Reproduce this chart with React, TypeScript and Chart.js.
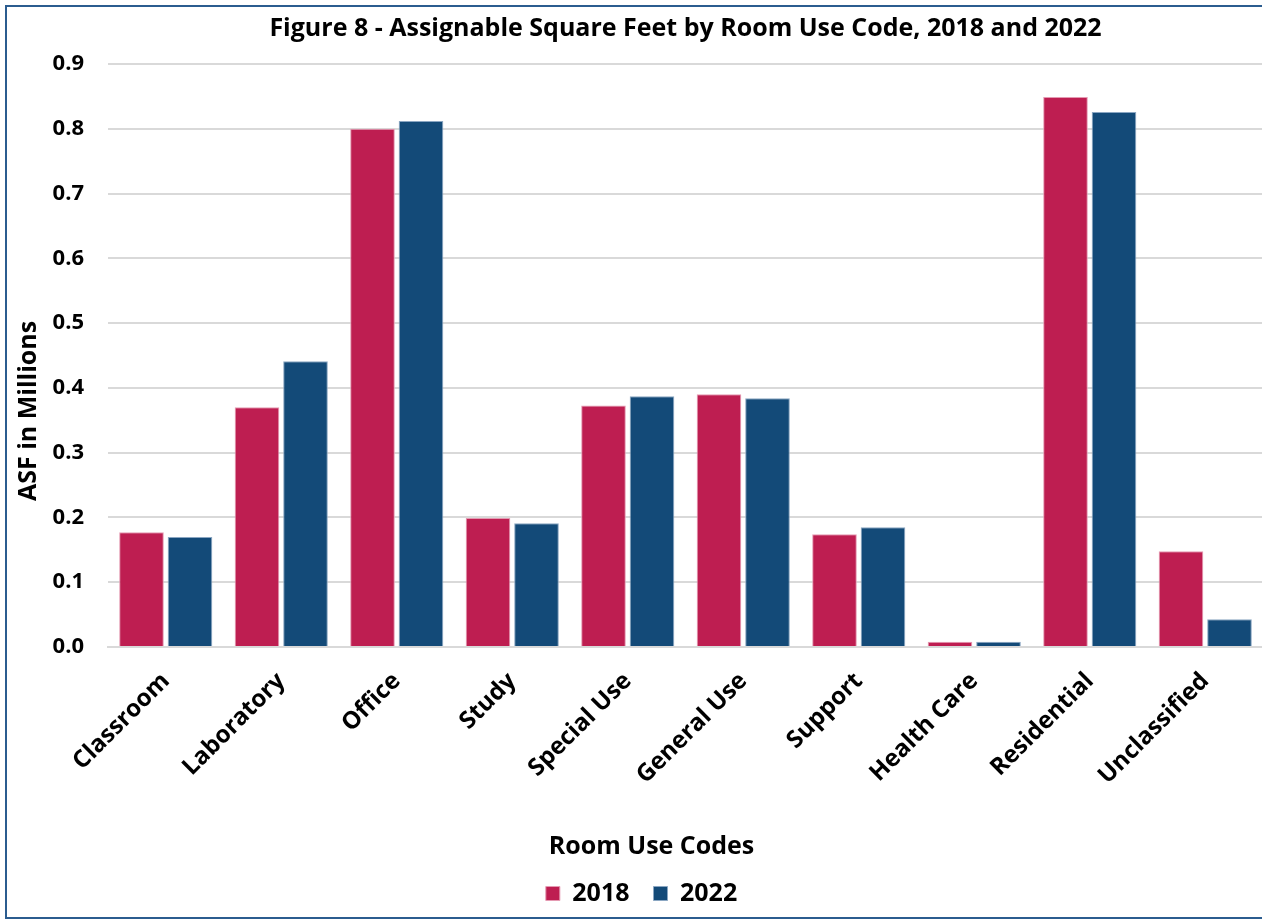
import React, { useEffect, useRef } from "react";
import { Chart, registerables } from "chart.js";

Chart.register(...registerables);

const categories = [
  "Classroom",
  "Laboratory",
  "Office",
  "Study",
  "Special Use",
  "General Use",
  "Support",
  "Health Care",
  "Residential",
  "Unclassified",
];
const series2018 = [0.177, 0.37, 0.8, 0.199, 0.373, 0.39, 0.174, 0.008, 0.849, 0.148];
const series2022 = [0.17, 0.441, 0.812, 0.191, 0.387, 0.384, 0.185, 0.008, 0.826, 0.043];
const yTicks = [0, 0.1, 0.2, 0.3, 0.4, 0.5, 0.6, 0.7, 0.8, 0.9];
const chartTitle = "Figure 8 - Assignable Square Feet by Room Use Code, 2018 and 2022";
const xTitle = "Room Use Codes";
const yTitle = "ASF in Millions";

const FONT = "'Open Sans', 'DejaVu Sans', sans-serif";

const axisTitles = {
  id: "axisTitles",
  afterDraw(chart: any) {
    const { ctx, chartArea } = chart;
    ctx.save();
    ctx.fillStyle = "#000";
    ctx.font = `bold 25px ${FONT}`;
    ctx.textAlign = "center";
    ctx.textBaseline = "middle";
    // x axis title
    const cx = (chartArea.left + chartArea.right) / 2 - 34;
    ctx.fillText(xTitle, cx, chart.scales.x.bottom - 10);
    // y axis title
    ctx.translate(chartArea.left - 79, chartArea.bottom - 236);
    ctx.rotate(-Math.PI / 2);
    ctx.fillText(yTitle, 0, 0);
    ctx.restore();
  },
};

export default function App() {
  const ref = useRef<HTMLCanvasElement | null>(null);

  useEffect(() => {
    if (!ref.current) return;
    const chart = new Chart(ref.current, {
      type: "bar",
      data: {
        labels: categories,
        datasets: [
          {
            label: "2018",
            data: series2018,
            backgroundColor: "#BE1E51",
            borderColor: "#E59AB2",
            borderWidth: 1,
            categoryPercentage: 0.84,
            barPercentage: 0.92,
          },
          {
            label: "2022",
            data: series2022,
            backgroundColor: "#134A78",
            borderColor: "#8AA6C2",
            borderWidth: 1,
            categoryPercentage: 0.84,
            barPercentage: 0.92,
          },
        ],
      },
      plugins: [axisTitles],
      options: {
        animation: false,
        responsive: true,
        maintainAspectRatio: false,
        layout: { padding: { left: 20, right: 7, top: 0, bottom: 3 } },
        plugins: {
          title: {
            display: true,
            fullSize: false,
            text: chartTitle,
            color: "#000",
            font: { family: FONT, size: 25, weight: "bold" },
            padding: { top: 14, bottom: 20 },
          },
          legend: {
            display: true,
            position: "bottom",
            labels: {
              color: "#000",
              font: { family: FONT, size: 25, weight: "bold" },
              boxWidth: 14,
              boxHeight: 14,
              padding: 24,
            },
          },
          tooltip: { enabled: false },
        },
        scales: {
          x: {
            afterFit: (scale: any) => {
              scale.height = 210;
            },
            grid: { display: false },
            border: { display: true, color: "#D9D9D9", width: 2 },
            ticks: {
              color: "#000",
              font: { family: FONT, size: 24, weight: "bold" },
              maxRotation: 45,
              minRotation: 45,
              padding: 12,
            },
          },
          y: {
            min: 0,
            max: 0.9,
            afterFit: (scale: any) => {
              scale.width = 88;
            },
            afterBuildTicks: (scale: any) => {
              scale.ticks = yTicks.map((v) => ({ value: v }));
            },
            grid: { color: "#D9D9D9", lineWidth: 2, drawTicks: false },
            border: { display: false },
            ticks: {
              color: "#000",
              font: { family: FONT, size: 22, weight: "bold" },
              padding: 24,
              callback: (v: any) => Number(v).toFixed(1),
            },
          },
        },
      },
    });
    return () => chart.destroy();
  }, []);

  return (
    <div
      style={{
        position: "fixed",
        left: 0,
        top: 0,
        width: 1262,
        height: 919,
        overflow: "hidden",
        background: "#fff",
      }}
    >
      <div
        style={{
          position: "absolute",
          left: 5,
          top: 5,
          width: 1270,
          height: 914,
          boxSizing: "border-box",
          border: "2px solid #2B5C8F",
        }}
      />
      <div style={{ position: "absolute", left: 0, top: 0, width: 1270, height: 919 }}>
        <canvas ref={ref} />
      </div>
    </div>
  );
}
